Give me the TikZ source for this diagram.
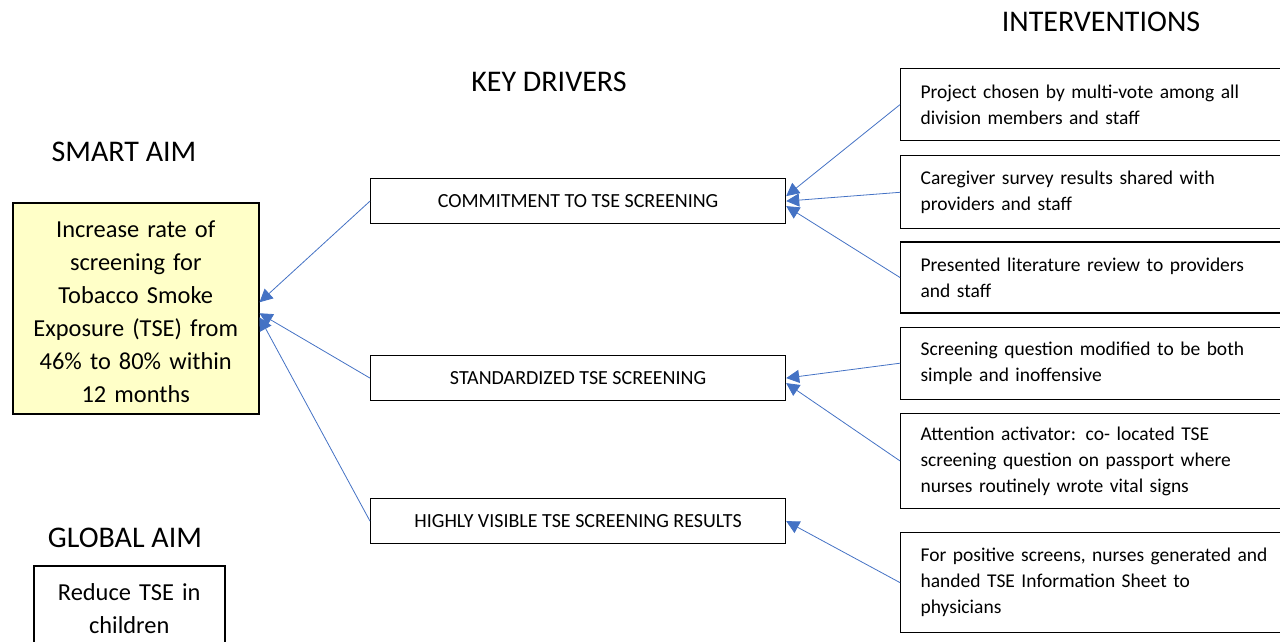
\documentclass[tikz,border=0pt]{standalone}
\usepackage{fontspec}
\setmainfont{Carlito}
\usetikzlibrary{arrows.meta, positioning, calc}
\definecolor{lineBlue}{RGB}{68, 114, 196}
\definecolor{aimYellow}{RGB}{255, 255, 200}

\begin{document}
\begin{tikzpicture}[
    x=1pt, y=-1pt,
    % Estilo para titulos de columna
    title/.style={
        font=\fontsize{30}{34}\selectfont,
        anchor=center
    },
    % Estilo para cajas de objetivo
    aimbox/.style={
        draw,
        line width=1.5pt,
        align=center,
        anchor=north west,
        font=\fontsize{24.4}{33}\selectfont
    },
    % Estilo para drivers
    driver/.style={
        draw,
        line width=1.2pt,
        anchor=north west,
        minimum width=415pt,
        minimum height=45pt,
        font=\fontsize{20}{22}\selectfont
    },
    % Estilo para intervenciones
    intervention/.style={
        draw,
        line width=1.2pt,
        minimum width=390pt,
        text width=350pt,
        inner xsep=20pt,
        align=left,
        font=\fontsize{19.5}{26}\selectfont
    },
    % Estilo para flechas
    arrow/.style={
        -{Triangle[length=13pt, width=13pt]},
        lineBlue,
        line width=0.8pt
    }
]
    \useasboundingbox (0,0) rectangle (1280,641);

    % --- 1. Titulos ---
    \node[title] (t_smart) at (124,152) {SMART AIM};
    \node[title] (t_drivers) at (549,82) {KEY DRIVERS};
    \node[title] (t_int) at (1101,22) {INTERVENTIONS};
    \node[title] (t_global) at (125,538) {GLOBAL AIM};

    % --- 2. Objetivos ---
    \node[aimbox, fill=aimYellow, minimum width=246pt, minimum height=211pt, text width=236pt, inner sep=2pt] (aim) at (12,202) {};
    \node[font=\fontsize{24.4}{33}\selectfont, align=center, text width=236pt, inner sep=0pt] (aim_text) at ([yshift=-3pt]aim.center) {
        Increase rate of\\
        screening for\\
        Tobacco Smoke\\
        Exposure (TSE) from\\
        46\% to 80\% within\\
        12 months
    };
    \node[aimbox, minimum width=191pt, minimum height=86pt, text width=180pt] (global) at (33,565) {
        Reduce TSE in\\
        children
    };

    % --- 3. Key drivers ---
    \node[driver] (d1) at (370,178) {COMMITMENT TO TSE SCREENING};
    \node[driver] (d2) at (370,355) {STANDARDIZED TSE SCREENING};
    \node[driver] (d3) at (370,498) {HIGHLY VISIBLE TSE SCREENING RESULTS};

    % --- 4. Intervenciones ---
    \node[intervention, anchor=north west, minimum height=72pt] (i1) at (900,68) {
        Project chosen by multi-vote among all\\
        division members and staff
    };
    \node[intervention, minimum height=73pt, below=14pt of i1] (i2) {
        Caregiver survey results shared with\\
        providers and staff
    };
    \node[intervention, minimum height=71pt, below=12pt of i2] (i3) {
        Presented literature review to providers\\
        and staff
    };
    \node[intervention, minimum height=72pt, below=13pt of i3] (i4) {
        Screening question modified to be both\\
        simple and inoffensive
    };
    \node[intervention, minimum height=95pt, below=13pt of i4] (i5) {
        Attention activator: co- located TSE\\
        screening question on passport where\\
        nurses routinely wrote vital signs
    };
    \node[intervention, minimum height=100pt, below=23pt of i5] (i6) {
        For positive screens, nurses generated and\\
        handed TSE Information Sheet to\\
        physicians
    };

    % --- 5. Flechas ---
    \draw[arrow] (i1.west) -- ([yshift=5pt]d1.east);
    \draw[arrow] (i2.west) -- (d1.east);
    \draw[arrow] (i3.west) -- ([yshift=-5pt]d1.east);
    \draw[arrow] (i4.west) -- (d2.east);
    \draw[arrow] (i5.west) -- ([yshift=-5pt]d2.east);
    \draw[arrow] (i6.west) -- (d3.east);

    \draw[arrow] (d1.west) -- ([yshift=6pt]aim.east);
    \draw[arrow] (d2.west) -- ([yshift=-5pt]aim.east);
    \draw[arrow] (d3.west) -- ([yshift=-9pt]aim.east);

\end{tikzpicture}
\end{document}
